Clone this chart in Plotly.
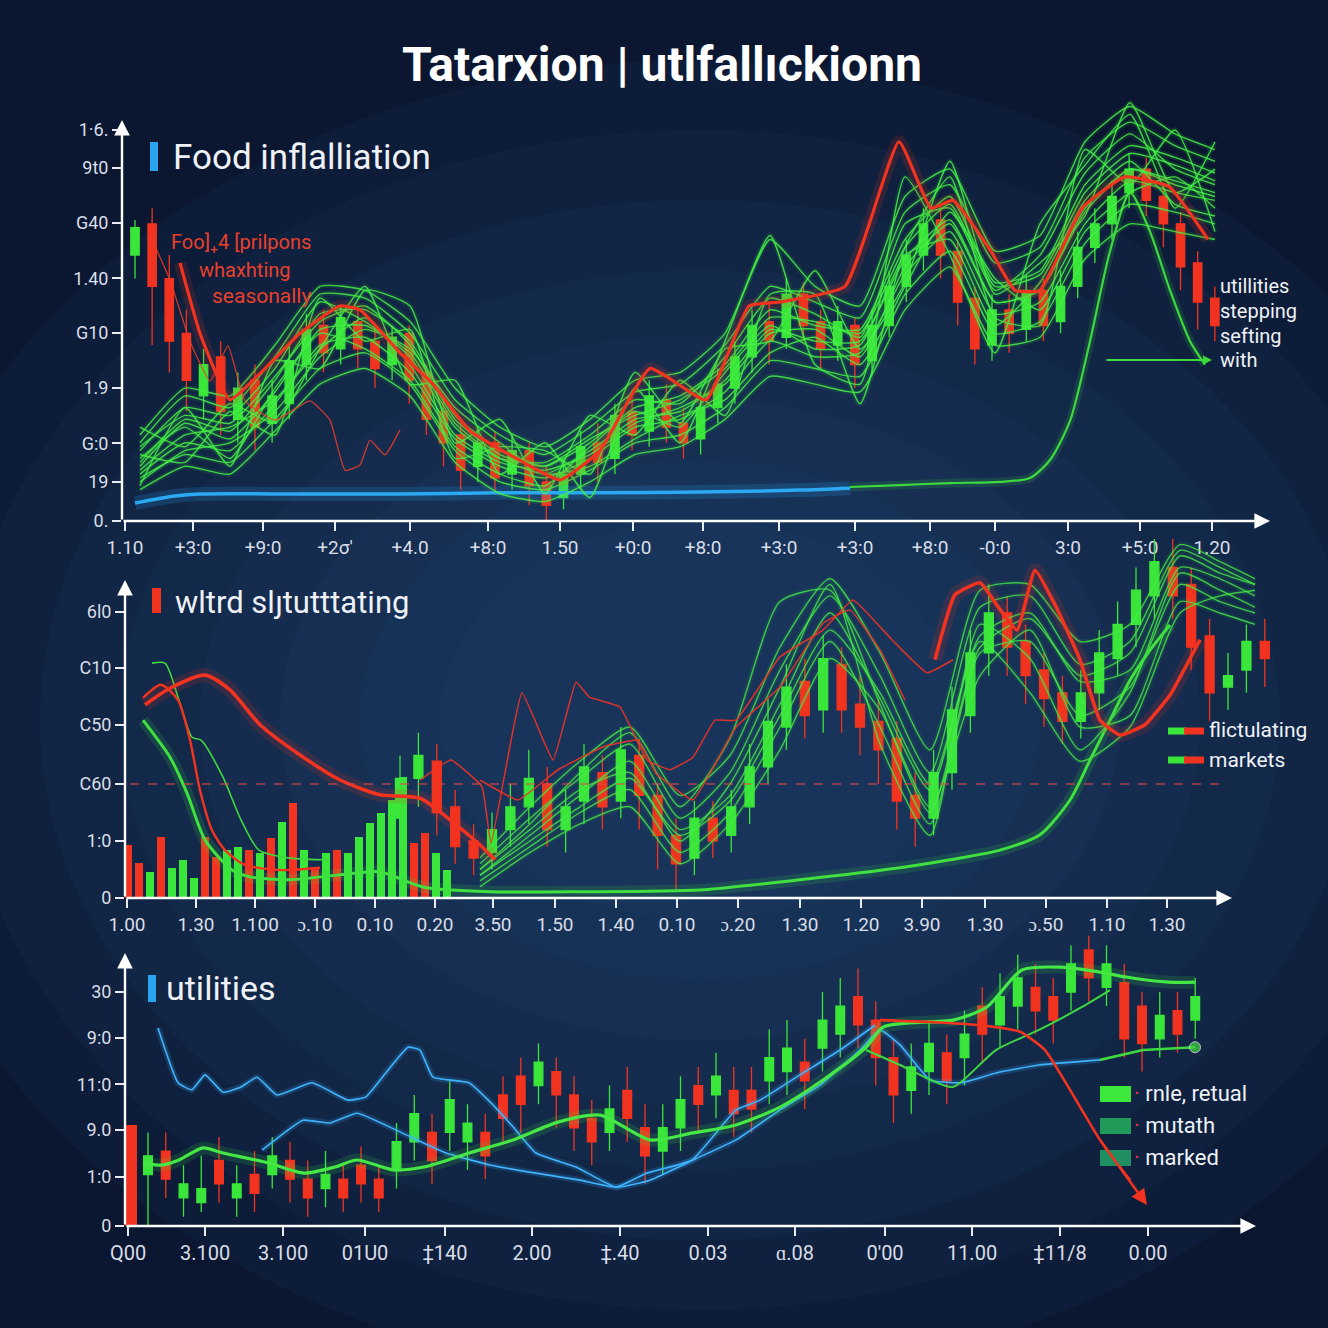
import plotly.graph_objects as go

W = H = 1328
def PX(x): return x / W
def PY(y): return 1 - y / H

GREEN = "#39e639"
RED = "#f2331f"
BLUE = "#2ba9f2"
TICKC = "#d9dee8"
FONT = "Roboto"

# ---------------- Panel 1 : Food inflalliation ----------------
p1_cx = [1.3 + 1.714 * i for i in range(64)]
p1_open = [6.8,7.6,6.2,4.8,3.2,4.2,2.6,3.6,2.5,3.0, 4.0,5.0,4.4,5.1,4.6,4.0,4.8,3.8,2.8,2.2,
           1.4,2.0,1.2,1.8,1.0,0.6,1.2,2.0,1.6,2.8, 2.3,3.1,2.5,2.1,2.9,3.4,4.2,5.1,4.7,5.8,
           5.1,4.5,5.0,4.1,5.0,6.0,6.8,7.7,6.9,5.7, 4.5,5.4,4.9,5.9,5.1,6.0,7.0,7.6,8.4,9.0,
           8.3,7.6,6.6,5.7]
p1_close = [7.5,6.0,4.6,3.6,4.0,2.8,3.4,2.4,3.2,4.1, 4.9,4.3,5.2,4.4,3.9,4.7,3.6,2.6,2.0,1.3,
            2.0,1.1,1.8,0.9,0.4,1.2,1.9,1.5,2.7,2.2, 3.2,2.4,2.0,2.9,3.5,4.2,5.0,4.6,5.8,5.0,
            4.4,5.1,4.0,5.0,6.0,6.8,7.6,6.8,5.6,4.4, 5.4,4.8,5.9,5.0,6.0,7.0,7.6,8.3,9.0,8.2,
            7.6,6.5,5.6,5.0]
p1_high = [7.7,8.0,6.8,5.4,4.4,4.6,3.8,4.0,3.6,4.5, 5.3,5.4,5.5,5.4,5.0,5.0,5.0,4.0,3.2,2.6,
           2.4,2.3,2.2,2.0,1.4,1.6,2.3,2.5,3.0,3.2, 3.6,3.5,2.9,3.3,3.9,4.6,5.4,5.6,6.2,6.1,
           5.4,5.5,5.2,5.4,6.4,7.2,8.0,8.1,7.2,6.0, 5.8,5.8,6.3,6.2,6.4,7.4,8.0,8.7,9.4,9.3,
           8.6,7.9,6.9,6.0]
p1_low = [6.2,4.5,3.8,2.8,2.6,2.2,2.0,1.8,2.0,2.6, 3.6,3.8,4.0,3.9,3.4,3.6,3.0,2.2,1.4,0.8,
          1.0,0.7,0.8,0.4,-0.1,0.3,0.8,1.0,1.2,1.8, 1.9,2.0,1.6,1.7,2.5,3.0,3.8,4.0,4.4,4.6,
          3.9,4.1,3.4,3.8,4.7,5.6,6.4,6.2,5.0,4.0, 4.1,4.3,4.6,4.6,4.8,5.7,6.6,7.2,8.0,7.8,
          7.0,5.9,4.9,4.6]

p1_lx = [1.8,6.3,10.8,15.3,19.8,24.3,28.8,33.3,37.8,42.3,46.8,51.3,55.8,60.3,64.8,69.3,
         73.8,78.3,82.8,87.3,91.8,96.3,100.8,105.3,109.3]
p1_g1 = [1.5,2.6,2.3,3.6,5.3,5.4,4.6,2.7,1.8,1.4,2.0,2.9,3.2,4.0,5.4,5.0,4.9,7.2,8.3,6.1,6.4,8.6,9.6,9.3,8.9]
p1_g2 = [1.2,2.0,1.8,3.0,4.5,4.7,3.8,2.1,1.4,1.1,1.6,2.4,2.6,3.3,4.6,4.2,4.3,6.3,7.4,5.3,5.6,7.6,8.7,8.4,8.2]
p1_g3 = [1.8,2.9,2.7,3.9,5.6,5.1,4.2,2.4,1.6,1.5,2.2,3.1,3.0,4.2,5.7,5.3,4.7,7.6,8.0,5.9,6.8,8.9,9.9,9.0,8.6]
p1_g4 = [1.0,1.8,2.0,2.8,4.2,4.9,4.4,2.9,2.0,1.2,1.4,2.1,2.7,3.1,4.3,4.7,4.0,6.0,7.9,6.2,5.4,7.4,8.4,8.8,8.0]
p1_g5 = [1.6,2.4,1.6,3.4,4.8,4.4,3.6,1.9,1.2,0.9,1.9,2.8,2.4,3.8,5.0,4.4,4.5,6.8,7.2,5.0,6.1,8.2,9.2,8.1,7.8]
p1_g6 = [2.0,3.2,2.9,4.2,5.8,5.7,4.8,3.1,2.2,1.7,2.4,3.3,3.5,4.5,6.0,5.6,5.2,7.9,8.6,6.6,7.0,9.3,10.2,9.6,9.2]
p1_g7 = [1.3,2.2,2.4,3.1,4.4,5.2,4.0,2.2,1.5,1.3,1.7,2.5,2.9,3.5,4.8,4.9,4.2,6.5,7.6,5.6,5.9,7.9,9.0,8.6,8.3]
p1_g8 = [1.1,1.7,1.5,2.6,3.9,4.3,3.5,1.8,1.0,0.8,1.3,2.0,2.2,2.9,4.1,3.9,3.7,5.8,6.9,4.8,5.1,7.1,8.1,7.9,7.6]
p1_g9 = [1.9,2.7,2.5,3.7,5.1,5.5,4.5,2.6,1.7,1.4,2.1,2.7,3.1,3.9,5.2,5.1,4.8,7.0,8.1,6.0,6.3,8.4,9.4,9.1,8.7]
p1_g10 = [2.2,3.4,3.2,4.5,6.0,5.9,5.1,3.4,2.4,1.9,2.6,3.6,3.8,4.8,7.2,6.0,5.5,8.3,9.0,6.9,7.3,9.7,10.6,9.9,9.5]
p1_g11 = [0.8,1.4,1.2,2.3,3.5,3.9,3.2,1.5,0.7,0.5,1.0,1.7,1.9,2.6,3.7,3.5,3.3,5.4,6.5,4.5,4.7,6.7,7.6,7.4,7.2]
p1_g12 = [1.4,2.5,2.1,3.3,4.9,5.0,4.3,2.5,1.6,1.2,1.8,2.6,2.8,3.6,4.9,4.6,4.6,6.7,7.7,5.6,5.9,8.0,9.0,8.7,8.4]
p1_g13 = [2.4,1.9,3.0,2.5,4.4,6.0,3.5,3.6,1.2,2.0,0.6,3.4,2.0,4.6,7.3,4.0,3.5,8.8,6.8,4.3,7.6,9.1,10.4,8.0,9.7]
p1_g14 = [0.9,2.9,1.4,4.1,3.9,5.9,5.5,2.0,2.6,0.7,2.7,2.2,3.6,2.7,5.8,5.8,3.0,7.0,8.8,5.2,5.0,9.5,8.6,10.0,7.4]
p1_g15 = [1.7,1.5,2.8,2.2,5.7,4.6,4.9,1.6,1.9,1.8,1.2,3.8,2.5,4.4,4.6,6.4,4.4,6.1,9.2,5.8,6.6,7.8,10.7,8.4,9.0]
p1_bundle = [p1_g1, p1_g2, p1_g3, p1_g4, p1_g5, p1_g6, p1_g7, p1_g8, p1_g9, p1_g10, p1_g11, p1_g12,
             p1_g13, p1_g14, p1_g15]

p1_blue_x = [1.3, 5.3, 7.8, 17.8, 27.8, 37.8, 47.8, 57.8, 67.8, 72.8]
p1_blue_y = [0.46, 0.64, 0.69, 0.69, 0.69, 0.72, 0.72, 0.74, 0.79, 0.84]
p1_long_x = [72.8, 77.8, 82.8, 87.8, 90.8, 92.8, 94.8, 96.8, 98.8, 100.8, 102.8, 104.8, 106.8, 108.3]
p1_long_y = [0.87, 0.92, 0.97, 1.0, 1.1, 1.56, 2.56, 4.6, 6.9, 8.4, 7.4, 5.9, 4.6, 4.0]

p1_red_x = [5.8,7.8,10.8,14.5,17.8,21.8,23.8,27.8,31.1,34.8,39.8,43.8,47.8,52.8,58.4,62.7,65.8,
            72.3,77.7,80.9,83.1,86.9,89.3,91.8,96.0,100.3,104.7,108.6]
p1_red_y = [6.6,4.8,3.1,3.95,4.8,5.5,5.4,4.3,3.5,2.3,1.55,1.05,1.8,3.9,3.1,5.5,5.6,
            6.0,9.7,8.0,8.2,6.9,5.9,5.9,8.0,8.8,8.55,7.2]
p1_red2_x = [2.8,4.8,6.8,8.8,10.6,12.3,15.3,18.8,20.8,22.3,23.8,24.8,26.3,27.8]
p1_red2_y = [7.31,6.16,4.6,3.58,4.48,3.07,2.58,3.07,2.58,1.30,1.43,2.07,1.69,2.33]

p1_tickx = [0.3,7.1,14.1,21.3,28.8,36.6,43.8,51.1,58.1,65.7,73.3,80.8,87.3,94.6,101.8,109.0]
p1_tickx_text = ["1.10","+3:0","+9:0","+2σ'","+4.0","+8:0","1.50","+0:0","+8:0","+3:0","+3:0",
                 "+8:0","-0:0","3:0","+5:0","1.20"]
p1_ticky = [0, 1.0, 1.99, 3.40, 4.81, 6.21, 7.62, 9.03, 10.0]
p1_ticky_text = ["0.", "19", "G:0", "1.9", "G10", "1.40", "G40", "9t0", "1·6."]

# ---------------- Panel 2 : wltrd slȷtutttating ----------------
p2_bx = [0.3 + 1.1 * k for k in range(30)]
p2_bh = [0.93,0.61,0.46,1.07,0.53,0.67,0.35,1.07,0.72,0.84,0.89,0.84,0.79,1.05,1.33,
         1.67,0.84,0.54,0.79,0.84,0.79,1.07,1.32,1.49,1.72,2.12,0.96,1.14,0.79,0.49]
p2_bdir = [-1,-1,1,-1,1,1,1,-1,-1,1,1,-1,1,-1,1,-1,1,-1,1,-1,1,1,1,1,1,1,-1,-1,1,1]

p2_cx = [27.5 + 1.84 * i for i in range(48)]
p2_open = [1.4,2.1,2.4,1.6,1.0,0.8,1.2,1.6,2.0,1.2, 1.7,2.2,1.7,2.5,1.8,1.1,0.7,1.4,1.1,1.6,
           2.3,3.0,3.8,3.3,4.1,3.4,3.1,2.8,1.8,1.4, 2.2,3.2,4.3,5.0,4.5,4.0,3.6,3.1,3.6,4.2,
           4.8,5.3,5.8,5.5,4.6,3.7,4.0,4.5]
p2_close = [2.1,2.5,1.5,0.9,0.7,1.2,1.6,2.1,1.2,1.6, 2.3,1.6,2.6,1.8,1.1,0.6,1.4,1.0,1.6,2.3,
            3.1,3.7,3.2,4.2,3.3,3.0,2.6,1.7,1.4,2.2, 3.3,4.3,5.0,4.4,3.9,3.5,3.1,3.6,4.3,4.8,
            5.4,5.9,5.3,4.4,3.6,3.9,4.5,4.2]
p2_high = [2.5,2.9,2.7,1.9,1.3,1.5,2.0,2.6,2.3,1.9, 2.7,2.5,3.0,2.8,2.0,1.4,1.7,1.7,1.9,2.7,
           3.5,4.1,4.2,4.6,4.4,3.9,3.5,3.1,2.2,2.6, 3.7,4.7,5.5,5.3,4.8,4.3,3.9,4.0,4.7,5.2,
           5.8,6.3,6.3,5.8,4.9,4.3,4.8,4.9]
p2_low = [1.0,1.6,1.1,0.6,0.4,0.5,0.9,1.3,0.9,0.8, 1.3,1.2,1.4,1.2,0.5,0.1,0.4,0.7,0.8,1.3,
          2.0,2.6,2.8,2.9,2.9,2.5,2.0,1.2,0.9,1.1, 1.9,2.9,3.9,3.9,3.4,3.0,2.7,2.8,3.3,3.9,
          4.4,4.9,4.9,4.0,3.1,3.3,3.6,3.7]

p2_lx = [35.5,40.5,45.5,50.5,55.5,60.5,65.5,70.5,75.5,80.5,85.5,90.5,95.5,100.5,105.5,109.5,113.0]
p2_g1 = [0.4,1.1,1.8,2.4,1.2,1.8,3.4,5.0,3.5,1.9,4.6,5.0,3.8,4.0,5.8,5.6,5.3]
p2_g2 = [0.6,1.4,2.1,2.7,1.4,2.2,4.0,5.3,3.9,2.2,5.1,5.3,4.1,4.5,6.1,5.8,5.5]
p2_g3 = [0.3,0.9,1.5,1.9,0.8,1.5,3.0,4.5,3.0,1.3,4.3,4.5,3.2,3.7,5.5,5.2,5.0]
p2_g4 = [0.5,1.2,1.9,2.2,1.0,2.0,3.7,5.5,2.7,1.1,4.8,4.2,2.6,3.6,5.7,5.4,5.1]
p2_g5 = [0.7,1.6,2.4,3.0,1.8,2.5,4.4,5.6,4.3,2.6,5.4,5.5,4.5,4.8,6.2,5.9,5.6]
p2_g6 = [0.2,0.8,1.3,1.6,0.6,1.3,2.6,4.2,3.3,1.6,3.9,4.7,3.0,3.2,5.2,5.0,4.8]
p2_g7 = [0.4,1.0,1.6,2.1,1.1,1.7,3.2,4.7,3.6,2.0,4.5,3.6,2.4,3.0,5.0,5.3,5.4]
p2_g8 = [0.5,1.3,2.2,2.9,1.6,2.8,5.2,5.4,3.4,1.5,4.4,4.9,3.9,4.3,6.0,5.7,5.5]
p2_bundle = [p2_g1, p2_g2, p2_g3, p2_g4, p2_g5, p2_g6, p2_g7, p2_g8]

p2_long_x = [1.8,4.5,6.2,8.0,10.7,12.5,16.5,23.2,25.5,29.9,36.6,45.5,57.5,67.5,77.5,82.5,
             87.5,91.5,94.5,96.5,98.5,100.5,102.5,104.5]
p2_long_y = [3.12,2.47,1.84,1.02,0.49,0.37,0.32,0.44,0.46,0.19,0.11,0.11,0.14,0.32,0.53,0.67,
             0.84,1.11,1.72,2.42,3.12,3.82,4.35,4.79]
p2_gthin_x = [2.7,4.0,5.4,6.7,7.6,9.8,11.6,13.4,16.5,20.5]
p2_gthin_y = [4.12,4.12,3.47,2.82,2.77,2.12,1.37,0.84,0.70,0.67]

p2_reda_x = [2.0,4.5,8.0,10.5,13.5,17.5,21.5,25.5,29.5,32.5,35.5,37.0]
p2_reda_y = [3.39,3.68,3.91,3.65,3.04,2.51,2.07,1.81,1.75,1.37,0.93,0.67]
p2_redb_x = [81.0,83.0,85.5,87.3,89.2,91.0,93.1,95.5,97.5,99.5,102.0,104.5,107.5]
p2_redb_y = [4.18,5.32,5.53,5.11,4.70,5.75,5.11,4.18,3.12,2.86,3.04,3.56,4.53]
p2_redc_x = [29.5,32.6,35.7,36.6,39.7,42.8,45.1,46.4,49.5,52.2,54.5,56.8,59.0,61.1,65.5,69.8,
             72.8,76.7,80.2,82.8]
p2_redc_y = [2.07,2.42,1.95,0.96,3.60,2.42,3.79,3.53,3.35,2.42,2.25,2.47,3.12,3.12,4.23,4.70,
             5.23,4.53,3.95,4.18]
p2_redd_x = [35.5,39.3,43.3,47.8,51.3,53.1,56.8,61.1,65.5,69.8,72.5,75.5,78.0]
p2_redd_y = [2.07,1.72,2.25,2.65,2.77,2.19,1.72,3.0,3.70,4.82,5.05,4.35,3.47]
p2_rede_x = [1.8,3.6,5.3,6.5,7.5,8.7,10.0,12.0,15.5,19.5]
p2_rede_y = [3.51,3.74,3.47,2.77,1.89,1.19,0.84,0.58,0.49,0.53]
p2_ref_level = 2.0

p2_tickx = [0.2,7.1,13.0,19.0,25.0,31.0,36.8,43.0,49.1,55.2,61.3,67.5,73.6,79.7,86.0,92.1,98.2,104.2]
p2_tickx_text = ["1.00","1.30","1.100","ɔ.10","0.10","0.20","3.50","1.50","1.40","0.10","ɔ.20",
                 "1.30","1.20","3.90","1.30","ɔ.50","1.10","1.30"]
p2_ticky = [0, 1, 2, 3.04, 4.04, 5.02]
p2_ticky_text = ["0", "1:0", "C60", "C50", "C10", "6l0"]

# ---------------- Panel 3 : utilities ----------------
p3_bar_x = [0.6]
p3_bar_h = [2.15]

p3_cx = [2.3 + 1.775 * i for i in range(60)]
p3_open = [1.1,1.6,0.6,0.5,1.4,0.6,1.1,1.1,1.4,1.0, 0.8,1.0,1.3,1.0,1.2,1.8,2.0,2.0,1.8,2.0,
           2.8,3.2,3.0,3.3,2.8,2.3,2.0,2.9,2.1,1.6, 2.1,3.0,2.8,2.9,2.9,3.1,3.3,3.5,3.8,4.1,
           4.9,4.4,3.6,2.9,3.3,3.7,3.6,4.7,4.3,4.7, 5.1,4.9,5.0,5.9,5.1,5.2,4.7,4.0,4.6,4.4]
p3_close = [1.5,1.0,0.9,0.8,0.9,0.9,0.7,1.5,1.0,0.6, 1.1,0.6,0.9,0.6,1.8,2.4,1.4,2.7,2.2,1.5,
            2.3,2.6,3.5,2.8,2.1,1.8,2.5,2.3,1.5,2.1, 2.7,2.6,3.2,2.4,2.5,3.6,3.8,3.1,4.4,4.7,
            4.3,3.6,2.8,3.4,3.9,3.1,4.1,4.1,4.9,5.3, 4.6,4.4,5.6,5.3,5.6,4.0,3.9,4.5,4.1,4.9]
p3_high = [2.0,2.0,1.3,1.5,1.9,1.3,1.6,1.9,1.8,1.4, 1.6,1.3,1.7,1.3,2.2,2.8,2.4,3.1,2.6,2.4,
           3.2,3.6,3.9,3.6,3.2,2.7,3.0,3.4,2.6,2.6, 3.2,3.4,3.7,3.4,3.4,4.2,4.4,4.0,5.0,5.3,
           5.5,4.8,4.0,3.9,4.4,4.1,4.6,5.1,5.4,5.8, 5.6,5.3,6.0,6.2,6.0,5.6,5.0,5.0,5.0,5.3]
p3_low = [0.0,0.6,0.2,0.3,0.5,0.2,0.3,0.8,0.5,0.2, 0.4,0.3,0.5,0.3,0.8,1.4,0.9,1.6,1.2,1.0,
          1.8,2.0,2.6,2.1,1.6,1.3,1.6,1.8,0.9,1.1, 1.6,2.0,2.3,1.9,2.0,2.6,2.8,2.5,3.3,3.6,
          3.8,3.0,2.2,2.4,2.8,2.6,3.0,3.5,3.8,4.2, 4.1,3.9,4.6,4.8,4.7,3.6,3.3,3.6,3.7,4.0]

p3_green_x = [1.8,3.6,5.4,7.8,9.8,14.3,17.9,21.0,23.2,26.8,29.9,34.4,38.8,43.3,47.5,52.5,56.8,
              61.1,65.5,69.8,74.1,75.8,78.4,82.8,86.2,89.7,93.6,97.9,100.1,104.4,107.0]
p3_green_y = [1.35,1.30,1.41,1.67,1.56,1.35,1.13,1.26,1.41,1.20,1.26,1.56,1.84,2.22,2.37,1.84,
              1.99,2.16,2.54,3.12,3.82,4.25,4.34,4.40,4.68,5.47,5.53,5.41,5.32,5.21,5.21]
p3_green2_x = [74.1,77.5,80.6,82.8,87.1,91.4,95.7,98.5]
p3_green2_y = [3.76,3.44,3.12,2.97,3.76,4.19,4.68,5.04]
p3_green3_x = [97.5,101.8,107.0]
p3_green3_y = [3.55,3.76,3.82]

p3_blue1_x = [3.3,5.3,6.7,8.0,9.8,11.6,13.2,15.2,18.7,22.3,24.1,26.3,28.3,29.5,30.8,34.4,36.6,
              38.8,41.1,45.1,49.1,52.5,56.8,61.1,65.5,69.5,73.5,75.5,77.5,80.5,83.6,87.1,91.4,
              97.5]
p3_blue1_y = [4.23,3.06,2.91,3.23,2.86,2.97,3.18,2.80,3.06,2.69,2.76,3.33,3.82,3.76,3.18,3.06,
              2.63,2.12,1.56,1.26,0.83,0.98,1.41,1.84,2.48,3.01,3.76,4.19,3.87,3.12,3.06,3.27,
              3.44,3.55]
p3_blue2_x = [13.7,17.8,20.5,23.2,27.7,32.1,36.6,41.1,45.5,49.1,52.2,56.7,61.1,63.5,67.5,71.5,75.0]
p3_blue2_y = [1.62,2.26,2.20,2.41,1.99,1.56,1.30,1.13,0.98,0.83,1.13,1.41,2.48,2.69,3.23,3.76,4.29]

p3_red_x = [75.5,80.5,85.5,89.5,92.0,94.5,97.5,100.5,102.2]
p3_red_y = [4.40,4.36,4.29,4.15,3.76,2.91,1.84,0.98,0.45]

p3_tickx = [0.3,8.0,15.8,24.0,32.0,40.7,49.5,58.3,67.0,76.0,84.7,93.5,102.3]
p3_tickx_text = ["Q00","3.100","3.100","01U0","‡140","2.00","‡.40","0.03","ɑ.08","0'00",
                 "11.00","‡11/8","0.00"]
p3_ticky = [0, 1.05, 2.05, 3.03, 4.02, 5.0]
p3_ticky_text = ["0", "1:0", "9.0", "11:0", "9:0", "30"]

# ---------------- figure ----------------
fig = go.Figure()

def add_line(x, y, color, width, xa, ya, glow=None, smooth=0.7, shape="spline"):
    if glow:
        fig.add_trace(go.Scatter(x=x, y=y, mode="lines", xaxis=xa, yaxis=ya, hoverinfo="skip",
                                 line=dict(color=glow, width=width * 4, shape=shape, smoothing=smooth),
                                 showlegend=False))
    fig.add_trace(go.Scatter(x=x, y=y, mode="lines", xaxis=xa, yaxis=ya,
                             line=dict(color=color, width=width, shape=shape, smoothing=smooth),
                             showlegend=False))

def add_candles(x, o, h, l, c, xa, ya):
    fig.add_trace(go.Candlestick(
        x=x, open=o, high=h, low=l, close=c, xaxis=xa, yaxis=ya, whiskerwidth=0,
        increasing=dict(line=dict(color=GREEN, width=1.3), fillcolor=GREEN),
        decreasing=dict(line=dict(color=RED, width=1.3), fillcolor=RED),
        showlegend=False))

# panel 1
add_line(p1_blue_x, p1_blue_y, BLUE, 3.5, "x", "y", glow="rgba(43,169,242,0.18)")
add_line(p1_long_x, p1_long_y, "#3fd93f", 2.2, "x", "y", glow="rgba(60,220,60,0.15)")
for g in p1_bundle:
    add_line(p1_lx, g, "rgba(70,240,70,0.85)", 1.4, "x", "y", glow="rgba(60,230,60,0.10)", smooth=0.5)
add_candles(p1_cx, p1_open, p1_high, p1_low, p1_close, "x", "y")
add_line(p1_red2_x, p1_red2_y, "rgba(242,60,40,0.85)", 1.3, "x", "y", smooth=0.4)
add_line(p1_red_x, p1_red_y, RED, 3.2, "x", "y", glow="rgba(242,51,31,0.15)", smooth=0.4)

# panel 2
p2_colors = [GREEN if d > 0 else RED for d in p2_bdir]
fig.add_trace(go.Bar(x=p2_bx, y=p2_bh, marker=dict(color=p2_colors, line=dict(width=0)),
                     width=0.8, xaxis="x2", yaxis="y2", showlegend=False))
for g in p2_bundle:
    add_line(p2_lx, g, "rgba(70,235,70,0.8)", 1.4, "x2", "y2", glow="rgba(60,230,60,0.08)", smooth=0.6)
add_line(p2_gthin_x, p2_gthin_y, "#3fd93f", 1.6, "x2", "y2")
add_line(p2_long_x, p2_long_y, "#3fe03f", 3.0, "x2", "y2", glow="rgba(60,230,60,0.15)")
add_candles(p2_cx, p2_open, p2_high, p2_low, p2_close, "x2", "y2")
add_line(p2_redc_x, p2_redc_y, "rgba(242,50,35,0.9)", 1.5, "x2", "y2", smooth=0.3)
add_line(p2_redd_x, p2_redd_y, "rgba(242,50,35,0.9)", 1.5, "x2", "y2", smooth=0.3)
add_line(p2_rede_x, p2_rede_y, RED, 2.4, "x2", "y2")
add_line(p2_reda_x, p2_reda_y, RED, 3.6, "x2", "y2", glow="rgba(242,51,31,0.15)")
add_line(p2_redb_x, p2_redb_y, RED, 3.6, "x2", "y2", glow="rgba(242,51,31,0.15)", smooth=0.4)

# panel 3
fig.add_trace(go.Bar(x=p3_bar_x, y=p3_bar_h, marker=dict(color=RED, line=dict(width=0)),
                     width=1.2, xaxis="x3", yaxis="y3", showlegend=False))
add_line(p3_blue1_x, p3_blue1_y, "#3fb4ff", 1.6, "x3", "y3", glow="rgba(63,180,255,0.18)", smooth=0.4)
add_line(p3_blue2_x, p3_blue2_y, "#3fb4ff", 1.6, "x3", "y3", glow="rgba(63,180,255,0.18)", smooth=0.4)
add_candles(p3_cx, p3_open, p3_high, p3_low, p3_close, "x3", "y3")
add_line(p3_green2_x, p3_green2_y, "#3fd93f", 2.0, "x3", "y3")
add_line(p3_green_x, p3_green_y, "#45e845", 3.2, "x3", "y3", glow="rgba(60,230,60,0.15)")
fig.add_trace(go.Scatter(x=p3_green3_x, y=p3_green3_y, mode="lines+markers", xaxis="x3", yaxis="y3",
                         line=dict(color="#3fd93f", width=2.6),
                         marker=dict(color="#3fd93f", size=[0, 0, 11]), showlegend=False))
add_line(p3_red_x[:-1], p3_red_y[:-1], RED, 2.6, "x3", "y3", smooth=0.5)

# ---------------- layout ----------------
def xax(dom, rng, anchor, tv, tt, tfs=19):
    return dict(domain=dom, range=rng, anchor=anchor, showgrid=False, zeroline=False,
                showline=False, ticks="outside", ticklen=9, tickwidth=2, tickcolor="#e8ecf2",
                tickvals=tv, ticktext=tt, tickfont=dict(size=tfs, color=TICKC, family=FONT),
                rangeslider=dict(visible=False), fixedrange=True, automargin=False)

def yax(dom, rng, anchor, tv, tt):
    return dict(domain=dom, range=rng, anchor=anchor, showgrid=False, zeroline=False,
                showline=False, ticks="outside", ticklen=9, tickwidth=2, tickcolor="#e8ecf2",
                tickvals=tv, ticktext=tt, tickfont=dict(size=18, color=TICKC, family=FONT),
                fixedrange=True, automargin=False)

shapes = []
# background glow (soft, many faint layers)
for (rx, ry) in [(820, 660), (740, 590), (660, 520), (580, 450), (500, 385), (420, 320),
                 (340, 260), (260, 200)]:
    shapes.append(dict(type="circle", xref="paper", yref="paper", layer="below",
                       x0=PX(700 - rx), x1=PX(700 + rx), y0=PY(720 + ry), y1=PY(720 - ry),
                       fillcolor="rgba(40,74,128,0.10)", line=dict(width=0)))
# title markers
for (x0, y0, x1, y1, col) in [(150, 142, 158, 171, "#2aa3f0"), (152, 588, 161, 613, RED),
                              (148, 975, 156, 1002, "#2aa3f0")]:
    shapes.append(dict(type="rect", xref="paper", yref="paper", x0=PX(x0), x1=PX(x1),
                       y0=PY(y1), y1=PY(y0), fillcolor=col, line=dict(width=0)))
# dashed reference line, panel 2
shapes.append(dict(type="line", xref="x2", yref="y2", x0=0.5, x1=109.5, y0=p2_ref_level,
                   y1=p2_ref_level, line=dict(color="rgba(225,70,70,0.75)", width=1.6, dash="dash")))
# panel 2 legend swatches
for yy in (731, 760):
    shapes.append(dict(type="line", xref="paper", yref="paper", x0=PX(1168), x1=PX(1186),
                       y0=PY(yy), y1=PY(yy), line=dict(color=GREEN, width=7)))
    shapes.append(dict(type="line", xref="paper", yref="paper", x0=PX(1184), x1=PX(1204),
                       y0=PY(yy), y1=PY(yy), line=dict(color=RED, width=7)))
# panel 3 legend swatches
for (yy, col) in [(1094, "#3be83b"), (1126, "#1f9a58"), (1158, "#1f8f62")]:
    shapes.append(dict(type="rect", xref="paper", yref="paper", x0=PX(1100), x1=PX(1131),
                       y0=PY(yy + 8), y1=PY(yy - 8), fillcolor=col, line=dict(width=0)))

ann = []
def text(x, y, s, size, color="#eef1f6", xanchor="left", bold=False):
    ann.append(dict(x=PX(x), y=PY(y), xref="paper", yref="paper", text=("<b>%s</b>" % s) if bold else s,
                    showarrow=False, xanchor=xanchor, yanchor="middle", borderpad=0,
                    font=dict(size=size, color=color, family=FONT)))

def arrow(hx, hy, tx, ty, color="#ffffff", width=2.4, head=2, size=1.3):
    ann.append(dict(x=PX(hx), y=PY(hy), xref="paper", yref="paper", text="", showarrow=True,
                    ax=tx - hx, ay=ty - hy, axref="pixel", ayref="pixel", arrowhead=head,
                    arrowsize=size, arrowwidth=width, arrowcolor=color, standoff=0))

text(662, 64, "Tatarxion | utlfallıckionn", 48, "#ffffff", "center", bold=True)
text(172, 157, "Food inflalliation", 35)
text(170, 242, "Foo]₊4 [prilpons", 20, "#e8402c")
text(198, 270, "whaxhting", 20, "#e8402c")
text(211, 296, "seasonally", 21, "#e8402c")
text(1219, 286, "utillities", 20)
text(1219, 311, "stepping", 20)
text(1219, 336, "sefting", 20)
text(1219, 360, "with", 20)
text(174, 602, "wltrd slȷtutttating", 31)
text(1208, 730, "flictulating", 21)
text(1208, 760, "markets", 21)
text(165, 988, "utilities", 34)
text(1133, 1093, "<span style='color:#e33'>·</span> rnle, retual", 22)
text(1133, 1125, "<span style='color:#e33'>·</span> mutath", 22)
text(1133, 1157, "<span style='color:#e33'>·</span> marked", 22)

# axis arrows
arrow(1270, 521, 122, 521)
arrow(122, 120, 122, 521)
arrow(1232, 898, 125, 898)
arrow(125, 580, 125, 898)
arrow(1256, 1226, 125, 1226)
arrow(125, 953, 125, 1226)
arrow(1212, 360, 1105, 360, color="#3fd93f", width=1.8, head=2, size=1.0)
# red arrowhead at the end of the panel-3 red trend
ann.append(dict(x=p3_red_x[-1], y=p3_red_y[-1], xref="x3", yref="y3", text="", showarrow=True,
                ax=p3_red_x[-3], ay=p3_red_y[-3], axref="x3", ayref="y3", arrowhead=2,
                arrowsize=1.2, arrowwidth=2.6, arrowcolor=RED, standoff=0))

fig.update_layout(
    width=W, height=H, margin=dict(l=0, r=0, t=0, b=0, autoexpand=False),
    paper_bgcolor="#0b1730", plot_bgcolor="rgba(0,0,0,0)",
    showlegend=False, bargap=0,
    xaxis=xax([PX(122), PX(1270)], [0, 114.8], "y", p1_tickx, p1_tickx_text),
    yaxis=yax([PY(521), PY(95)], [0, 10.895], "x", p1_ticky, p1_ticky_text),
    xaxis2=xax([PX(125), PX(1280)], [0, 115.5], "y2", p2_tickx, p2_tickx_text),
    yaxis2=yax([PY(898), PY(530)], [0, 6.456], "x2", p2_ticky, p2_ticky_text),
    xaxis3=xax([PX(125), PX(1262)], [0, 113.7], "y3", p3_tickx, p3_tickx_text, 20),
    yaxis3=yax([PY(1226), PY(925)], [0, 6.432], "x3", p3_ticky, p3_ticky_text),
    shapes=shapes, annotations=ann,
)

fig.write_html("out.html", config={"displayModeBar": False},
               post_script="document.body.style.margin='0';document.body.style.background='#0b1730';"
                           "document.documentElement.style.overflow='hidden';")
